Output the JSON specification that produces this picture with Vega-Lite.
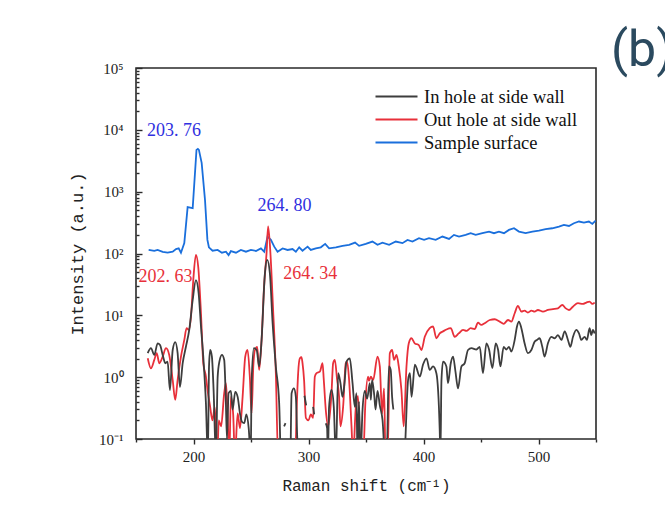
{
"$schema": "https://vega.github.io/schema/vega-lite/v6.json",
"width": 460,
"height": 371,
"autosize": {"type": "none"},
"padding": {"left": 136, "top": 68, "right": 69, "bottom": 79},
"background": "white",
"title": {"text": "(b)", "anchor": "start", "frame": "group", "dx": 475, "dy": 57, "offset": 2, "baseline": "alphabetic", "fontSize": 50, "font": "Roboto", "fontWeight": "normal", "color": "#2b4a5f"},
"config": {
 "view": {"stroke": "#2a2a2a", "strokeWidth": 1.6},
 "axis": {"domain": false, "grid": false, "tickColor": "#2a2a2a", "tickWidth": 1.4, "labelColor": "#222", "titleColor": "#222", "titleFontWeight": "normal"}
},
"datasets": {
 "blue": [
  {"x":161.0,"y":114},{"x":165.9,"y":110},{"x":168.8,"y":114},{"x":173.2,"y":106},{"x":177.5,"y":103},{"x":181.9,"y":107},{"x":184.8,"y":118},{"x":187.1,"y":121},{"x":189.1,"y":103},{"x":192.0,"y":147},{"x":194.9,"y":561},{"x":199.3,"y":541},{"x":202.6,"y":4740},{"x":203.8,"y":4930},{"x":204.7,"y":4740},{"x":207.1,"y":2920},{"x":210,"y":736},{"x":212.1,"y":166},{"x":213.4,"y":126},{"x":216.6,"y":111},{"x":221,"y":114},{"x":224.7,"y":103},{"x":228.2,"y":107},{"x":230.5,"y":94},{"x":232.5,"y":109},{"x":236.9,"y":103},{"x":241.2,"y":114},{"x":245.6,"y":107},{"x":249.9,"y":114},{"x":254.3,"y":110},{"x":258.6,"y":121},{"x":261.5,"y":107},{"x":264.4,"y":188},{"x":267.3,"y":166},{"x":270.2,"y":129},{"x":273.1,"y":107},{"x":277.5,"y":121},{"x":281.8,"y":114},{"x":286.1,"y":118},{"x":289,"y":107},{"x":291.9,"y":126},{"x":294.8,"y":111},{"x":299.2,"y":129},{"x":302,"y":114},{"x":306.4,"y":121},{"x":310.7,"y":126},{"x":314.5,"y":143},{"x":317.9,"y":121},{"x":323.8,"y":126},{"x":329.6,"y":133},{"x":335.3,"y":138},{"x":340.5,"y":150},{"x":344,"y":133},{"x":349.8,"y":143},{"x":355.6,"y":156},{"x":360,"y":138},{"x":364.3,"y":150},{"x":370.1,"y":138},{"x":375.9,"y":156},{"x":381.7,"y":147},{"x":386.1,"y":166},{"x":390.4,"y":156},{"x":396.1,"y":177},{"x":400.5,"y":166},{"x":404.8,"y":177},{"x":410.6,"y":166},{"x":416.5,"y":188},{"x":422.2,"y":172},{"x":426.5,"y":200},{"x":430.9,"y":188},{"x":436.7,"y":200},{"x":441,"y":213},{"x":445.4,"y":200},{"x":451.2,"y":213},{"x":457,"y":226},{"x":461.3,"y":213},{"x":465.6,"y":226},{"x":470,"y":213},{"x":474.3,"y":241},{"x":478.7,"y":256},{"x":483,"y":226},{"x":488.8,"y":213},{"x":494.7,"y":226},{"x":500.4,"y":234},{"x":506.2,"y":247},{"x":512,"y":256},{"x":517.8,"y":272},{"x":522.1,"y":290},{"x":526.5,"y":279},{"x":530.8,"y":309},{"x":535.2,"y":329},{"x":539.5,"y":315},{"x":543.8,"y":329},{"x":546.8,"y":301},{"x":549.7,"y":341}
 ],
 "red": [
  {"x":160.2,"y":2.02},{"x":163,"y":1.39},{"x":165.9,"y":1.9},{"x":168,"y":2.44},{"x":170.3,"y":1.68},{"x":173.2,"y":2.15},{"x":176.1,"y":2.94},{"x":178.9,"y":2.29},{"x":181.9,"y":0.9},{"x":184.1,"y":0.43},{"x":186.2,"y":0.9},{"x":189.1,"y":2.15},{"x":192,"y":4.0},{"x":194,"y":6.2},{"x":195.8,"y":5.8},{"x":197.8,"y":9.5},{"x":199.8,"y":37},{"x":202.1,"y":95},{"x":204.1,"y":61},{"x":206.5,"y":10.8},{"x":208.5,"y":1.68},{"x":210.8,"y":1.02},{"x":212.3,"y":0.6},{"x":214.3,"y":0.35},{"x":216.5,"y":0.2},{"x":218.5,"y":0.33},{"x":220.6,"y":0.05},{"x":222,"y":0.2},{"x":224,"y":0.16},{"x":226.7,"y":0.55},{"x":228.2,"y":0.8},{"x":229.5,"y":0.3},{"x":231.1,"y":0.05},{"x":232.5,"y":0.48},{"x":234.5,"y":0.25},{"x":236,"y":0.05},{"x":238.4,"y":0.26},{"x":240.4,"y":0.15},{"x":242.7,"y":0.48},{"x":245,"y":2.15},{"x":247,"y":2.75},{"x":249,"y":1.0},{"x":250.5,"y":0.26},{"x":252,"y":1.5},{"x":253.4,"y":2.75},{"x":255.4,"y":3.1},{"x":257.1,"y":1.31},{"x":259.2,"y":4.0},{"x":261.2,"y":25.8},{"x":263.5,"y":100},{"x":264.9,"y":275},{"x":266.9,"y":100},{"x":269.1,"y":13.8},{"x":271.6,"y":1.16},{"x":273.6,"y":0.05},{"x":276,"y":0.05},{"x":288.5,"y":0.05},{"x":289.6,"y":0.26},{"x":291,"y":1.16},{"x":292.5,"y":2.02},{"x":293.9,"y":2.1},{"x":294.8,"y":1.68},{"x":296.2,"y":0.87},{"x":297.7,"y":0.22},{"x":300,"y":0.2},{"x":302,"y":0.25},{"x":304,"y":0.22},{"x":305.5,"y":1.02},{"x":307,"y":1.16},{"x":309.9,"y":1.23},{"x":312.2,"y":1.68},{"x":313.3,"y":0.9},{"x":315,"y":0.3},{"x":317.1,"y":0.16},{"x":320,"y":0.55},{"x":321.4,"y":1.68},{"x":322.9,"y":1.9},{"x":324.9,"y":0.9},{"x":326.6,"y":0.48},{"x":327.8,"y":0.16},{"x":330.1,"y":0.33},{"x":332.4,"y":1.68},{"x":333.6,"y":1.78},{"x":335.3,"y":0.9},{"x":337.4,"y":0.16},{"x":338.8,"y":0.05},{"x":341,"y":0.3},{"x":343,"y":0.5},{"x":345.5,"y":0.05},{"x":347.5,"y":0.05},{"x":349.5,"y":0.4},{"x":351.8,"y":1.02},{"x":352.6,"y":0.87},{"x":354.2,"y":1.02},{"x":356.2,"y":0.9},{"x":360,"y":2.15},{"x":362,"y":1.49},{"x":364,"y":0.26},{"x":365.7,"y":0.66},{"x":367,"y":0.05},{"x":368.8,"y":0.05},{"x":370.7,"y":2.44},{"x":372.7,"y":2.75},{"x":374.4,"y":1.9},{"x":376.5,"y":2.29},{"x":378.5,"y":1.49},{"x":380.8,"y":0.62},{"x":382.8,"y":0.16},{"x":385.2,"y":1.49},{"x":387.2,"y":3.53},{"x":389.5,"y":4.26},{"x":392.4,"y":3.53},{"x":395.9,"y":3.3},{"x":398.2,"y":2.75},{"x":401.1,"y":4.5},{"x":405.4,"y":6.2},{"x":408.3,"y":6.6},{"x":411.2,"y":4.26},{"x":414.1,"y":5.1},{"x":417,"y":5.5},{"x":419.9,"y":5.9},{"x":423.7,"y":6.2},{"x":427.1,"y":4.5},{"x":430.6,"y":5.1},{"x":434.4,"y":5.8},{"x":437.3,"y":5.6},{"x":441,"y":6.2},{"x":444.5,"y":6.0},{"x":447.4,"y":7.6},{"x":450.3,"y":7.0},{"x":453.2,"y":7.45},{"x":457.6,"y":8.4},{"x":461.9,"y":8.65},{"x":466.3,"y":7.9},{"x":469.7,"y":7.3},{"x":473.5,"y":8.4},{"x":476.4,"y":7.9},{"x":479.3,"y":10.8},{"x":482.1,"y":14.2},{"x":485.1,"y":11.5},{"x":487.9,"y":11.9},{"x":490.8,"y":11.1},{"x":493.8,"y":11.9},{"x":496.6,"y":11.5},{"x":499.5,"y":12.2},{"x":503.9,"y":11.5},{"x":508.2,"y":12.2},{"x":512.6,"y":12.6},{"x":516.9,"y":13.0},{"x":520.7,"y":14.7},{"x":523.6,"y":13.0},{"x":526.5,"y":12.2},{"x":529.9,"y":13.8},{"x":534.3,"y":15.7},{"x":538.6,"y":15.3},{"x":541.6,"y":16.1},{"x":544.4,"y":16.7},{"x":546.8,"y":15.3},{"x":548.8,"y":16.1}
 ],
 "black": [
  {"x":160.2,"y":2.44},{"x":163,"y":2.94},{"x":165.9,"y":2.29},{"x":168.8,"y":3.53},{"x":170.9,"y":3.3},{"x":173.2,"y":2.29},{"x":175.5,"y":1.68},{"x":177.5,"y":1.78},{"x":179.5,"y":0.62},{"x":181.9,"y":2.75},{"x":184.1,"y":3.7},{"x":186.2,"y":2.44},{"x":188.2,"y":0.69},{"x":190.6,"y":1.68},{"x":193.4,"y":3.1},{"x":196.3,"y":5.8},{"x":199.3,"y":17.7},{"x":202.1,"y":37},{"x":204.5,"y":22.5},{"x":206.5,"y":6.6},{"x":208.5,"y":2.15},{"x":210.8,"y":0.38},{"x":212.5,"y":0.05},{"x":213.5,"y":1.5},{"x":214.5,"y":2.75},{"x":216,"y":2.15},{"x":217.5,"y":0.6},{"x":219.5,"y":0.05},{"x":221,"y":1.0},{"x":222.5,"y":1.78},{"x":224.7,"y":2.29},{"x":226.7,"y":1.9},{"x":228,"y":0.5},{"x":229.1,"y":0.1},{"x":230.5,"y":0.55},{"x":232.5,"y":0.6},{"x":234,"y":0.3},{"x":236.3,"y":0.58},{"x":238.4,"y":0.48},{"x":240.4,"y":0.26},{"x":242.1,"y":0.19},{"x":244.1,"y":0.18},{"x":246,"y":0.25},{"x":248,"y":0.15},{"x":249.8,"y":0.05},{"x":250.5,"y":0.8},{"x":252.5,"y":2.94},{"x":254.9,"y":2.75},{"x":257.1,"y":1.49},{"x":259.2,"y":4.0},{"x":262.1,"y":48},{"x":264.1,"y":79},{"x":266.4,"y":48},{"x":268.8,"y":7.45},{"x":271.6,"y":1.49},{"x":274.5,"y":0.38},{"x":275.7,"y":0.05},{"x":277.5,"y":null},{"x":278.8,"y":0.16},{"x":280,"y":0.18},{"x":281.5,"y":null},{"x":284.4,"y":0.05},{"x":285.3,"y":0.55},{"x":287.3,"y":0.66},{"x":289,"y":0.48},{"x":290.1,"y":0.12},{"x":290.8,"y":0.05},{"x":292,"y":null},{"x":296.5,"y":0.5},{"x":298,"y":0.35},{"x":299.5,"y":null},{"x":304,"y":0.33},{"x":305,"y":0.25},{"x":306,"y":null},{"x":315,"y":0.18},{"x":316.2,"y":0.15},{"x":316.8,"y":0.05},{"x":317.9,"y":0.33},{"x":320,"y":0.62},{"x":322,"y":0.33},{"x":323.8,"y":0.05},{"x":325.8,"y":1.16},{"x":327.8,"y":0.8},{"x":329.6,"y":0.48},{"x":331.3,"y":0.8},{"x":333,"y":1.78},{"x":335.9,"y":2.02},{"x":338.3,"y":0.8},{"x":340.3,"y":0.33},{"x":341.7,"y":0.55},{"x":342.6,"y":0.05},{"x":343.9,"y":0.4},{"x":345.2,"y":0.05},{"x":347,"y":0.3},{"x":349,"y":0.6},{"x":351,"y":0.45},{"x":353.3,"y":0.8},{"x":354.2,"y":0.43},{"x":355.3,"y":0.9},{"x":357.2,"y":0.5},{"x":358.3,"y":0.3},{"x":360,"y":0.6},{"x":362,"y":0.35},{"x":364.4,"y":0.2},{"x":366.6,"y":0.05},{"x":368,"y":0.05},{"x":369.9,"y":1.49},{"x":371.5,"y":1.31},{"x":372.7,"y":0.48},{"x":373.8,"y":0.3},{"x":375,"y":null},{"x":383,"y":null},{"x":383.7,"y":0.05},{"x":385.5,"y":0.4},{"x":386.6,"y":0.9},{"x":388.2,"y":1.16},{"x":389.6,"y":0.48},{"x":392.5,"y":1.6},{"x":396.8,"y":1.02},{"x":399.6,"y":1.6},{"x":402.6,"y":2.02},{"x":405.4,"y":1.31},{"x":408.3,"y":1.49},{"x":411.2,"y":1.16},{"x":414.1,"y":0.14},{"x":414.7,"y":0.05},{"x":415.6,"y":0.87},{"x":417,"y":1.78},{"x":419.9,"y":1.49},{"x":421.3,"y":0.8},{"x":423.7,"y":1.68},{"x":425.7,"y":2.15},{"x":427.8,"y":1.23},{"x":430,"y":0.66},{"x":433,"y":1.49},{"x":435.8,"y":1.68},{"x":438.7,"y":2.75},{"x":441.7,"y":2.94},{"x":446,"y":2.8},{"x":448.9,"y":3.1},{"x":451.7,"y":1.16},{"x":454.7,"y":3.53},{"x":457,"y":2.8},{"x":459.9,"y":1.4},{"x":462.8,"y":3.53},{"x":464.8,"y":2.8},{"x":466.9,"y":1.49},{"x":469.7,"y":3.1},{"x":472.1,"y":2.8},{"x":474.3,"y":3.1},{"x":476.4,"y":2.6},{"x":479.3,"y":4.0},{"x":481.3,"y":6.6},{"x":483,"y":7.9},{"x":485.1,"y":6.2},{"x":487.9,"y":3.53},{"x":490.8,"y":2.44},{"x":493.8,"y":2.75},{"x":496.6,"y":3.75},{"x":498.6,"y":4.0},{"x":501,"y":4.26},{"x":503.3,"y":3.1},{"x":505.3,"y":2.15},{"x":508.2,"y":3.53},{"x":511.1,"y":4.5},{"x":514,"y":4.26},{"x":516.9,"y":4.8},{"x":519.9,"y":4.0},{"x":522.8,"y":5.5},{"x":525.6,"y":4.0},{"x":527.7,"y":3.1},{"x":530,"y":4.5},{"x":532.9,"y":5.8},{"x":535.2,"y":5.1},{"x":537.3,"y":4.0},{"x":540.1,"y":4.5},{"x":542.1,"y":4.0},{"x":544.4,"y":6.2},{"x":545.9,"y":4.8},{"x":547.3,"y":5.8},{"x":548.8,"y":5.1}
 ],
 "labelsBlue": [
  {"x":183,"y":9600,"t":"203. 76"},{"x":279.2,"y":589,"t":"264. 80"}
 ],
 "labelsRed": [
  {"x":175.6,"y":42.3,"t":"202. 63"},{"x":301.6,"y":46.3,"t":"264. 34"}
 ]
},
"resolve": {"axis": {"x": "independent", "y": "independent"}},
"layer": [
 {
  "data": {"name": "blue"},
  "mark": {"type": "line", "clip": true, "strokeWidth": 1.8, "invalid": "break-paths-filter-domains"},
  "encoding": {
   "x": {"field": "x", "type": "quantitative", "scale": {"domain": [150, 550], "nice": false, "zero": false},
     "axis": {"orient": "bottom", "values": [200, 300, 400, 500], "tickSize": 5, "labelFont": "Liberation Serif", "labelFontSize": 15, "labelPadding": 5, "title": "Raman shift (cm⁻¹)", "titleFont": "Liberation Mono", "titleFontSize": 16, "titlePadding": 13}},
   "y": {"field": "y", "type": "quantitative", "scale": {"type": "log", "domain": [0.1, 100000], "nice": false},
     "axis": {"orient": "left", "values": [0.1, 1, 10, 100, 1000, 10000, 100000], "tickSize": -6, "labelPadding": 19, "labelFont": "Liberation Serif", "labelFontSize": 15,
       "labelExpr": "'10' + (datum.value < 0.5 ? '⁻¹' : datum.value < 5 ? '⁰' : datum.value < 50 ? '¹' : datum.value < 500 ? '²' : datum.value < 5000 ? '³' : datum.value < 50000 ? '⁴' : '⁵')",
       "title": "Intensity (a.u.)", "titleFont": "Liberation Mono", "titleFontSize": 17, "titlePadding": 12}},
   "color": {"datum": "Sample surface", "type": "nominal",
     "scale": {"domain": ["In hole at side wall", "Out hole at side wall", "Sample surface"], "range": ["#3d3d3d", "#e8303a", "#1a6fdc"]},
     "legend": {"orient": "none", "legendX": 249, "legendY": 17, "padding": 0, "title": null, "symbolType": "M-2,0H2", "symbolSize": 441, "symbolStrokeWidth": 2, "labelOffset": 16, "labelFont": "Liberation Serif", "labelFontSize": 18.5, "labelColor": "#111", "labelLimit": 300, "rowPadding": 2}}
  }
 },
 {
  "data": {"name": "red"},
  "mark": {"type": "line", "clip": true, "strokeWidth": 1.8, "interpolate": "monotone", "invalid": "break-paths-filter-domains"},
  "encoding": {
   "x": {"field": "x", "type": "quantitative", "axis": {"orient": "bottom", "values": [150, 250, 350, 450, 550], "tickSize": 3, "labels": false, "title": null}},
   "y": {"field": "y", "type": "quantitative", "axis": {"orient": "left", "values": [0.2,0.3,0.4,0.5,0.6,0.7,0.8,0.9,2,3,4,5,6,7,8,9,20,30,40,50,60,70,80,90,200,300,400,500,600,700,800,900,2000,3000,4000,5000,6000,7000,8000,9000,20000,30000,40000,50000,60000,70000,80000,90000], "tickSize": -3, "labels": false, "title": null}},
   "color": {"datum": "Out hole at side wall", "type": "nominal"}
  }
 },
 {
  "data": {"name": "black"},
  "mark": {"type": "line", "clip": true, "strokeWidth": 1.8, "interpolate": "monotone", "invalid": "break-paths-filter-domains"},
  "encoding": {
   "x": {"field": "x", "type": "quantitative", "axis": null},
   "y": {"field": "y", "type": "quantitative", "axis": null},
   "color": {"datum": "In hole at side wall", "type": "nominal"}
  }
 },
 {
  "data": {"name": "labelsBlue"},
  "mark": {"type": "text", "font": "Liberation Serif", "fontSize": 18, "color": "#3030e0", "align": "center", "baseline": "middle"},
  "encoding": {
   "x": {"field": "x", "type": "quantitative", "axis": null},
   "y": {"field": "y", "type": "quantitative", "axis": null},
   "text": {"field": "t"}
  }
 },
 {
  "data": {"name": "labelsRed"},
  "mark": {"type": "text", "font": "Liberation Serif", "fontSize": 18, "color": "#e8303a", "align": "center", "baseline": "middle"},
  "encoding": {
   "x": {"field": "x", "type": "quantitative", "axis": null},
   "y": {"field": "y", "type": "quantitative", "axis": null},
   "text": {"field": "t"}
  }
 }
]
}
